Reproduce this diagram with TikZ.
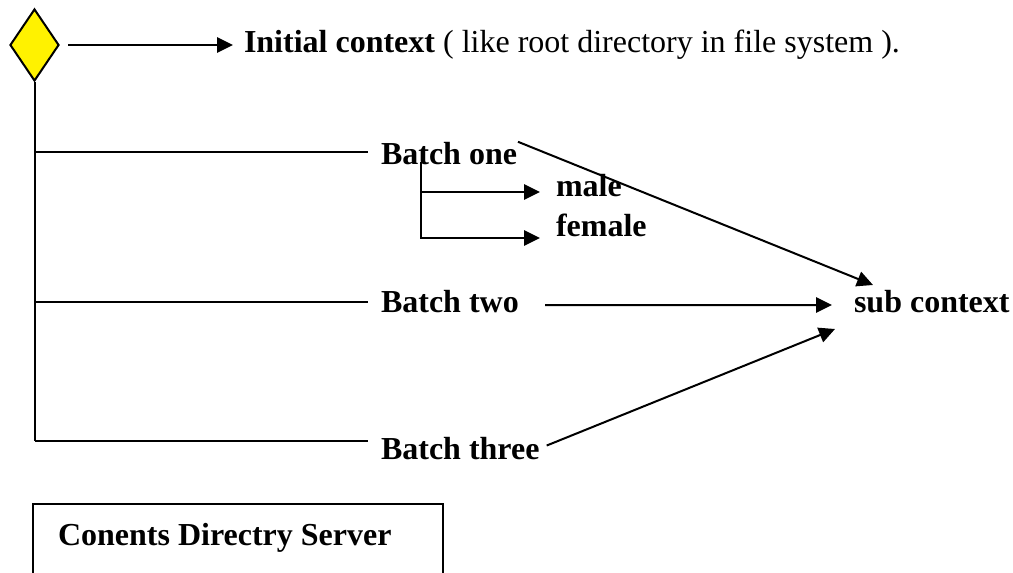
\documentclass[tikz,border=0pt]{standalone}
\usepackage{fontspec}
\setmainfont{Liberation Serif}
\usetikzlibrary{shapes.geometric,arrows.meta}

\begin{document}
\begin{tikzpicture}[x=0.75pt,y=-0.75pt,line width=1.5pt,
  lbl/.style={anchor=base west,inner sep=0pt,font=\fontsize{24}{28}\selectfont\bfseries},
  tip/.style={-{Triangle[length=12pt,width=11.5pt]}}]
  \useasboundingbox (0,0) rectangle (1013,573);

  % Root of the tree
  \node[diamond,draw,fill=yellow,inner sep=0pt,minimum width=36.75pt,minimum height=54pt] (root) at (34.5,45) {};
  \node[lbl] (init) at (243,53) {Initial context \mdseries ( like root directory in file system ).};
  \draw[tip,shorten <=6pt,shorten >=7.5pt] (root.east) -- (root.east -| init.west);

  % Batches hanging off the trunk
  \foreach \n/\y/\t/\ly in {1/165/one/152,2/313/two/302,3/459/three/441} {
    \node[lbl] (b\n) at (380,\y) {Batch \t};
    \coordinate (e\n) at (368,\ly);
    \draw (root.south |- e\n) -- (e\n);
  }
  \draw (root.south) -- (root.south |- e3);

  % Split of batch one
  \node[lbl] (male) at (555,197) {male};
  \node[lbl] (female) at (555,237) {female};
  \coordinate (fork) at (421,162);
  \draw[tip] (fork) |- (540,238);
  \draw[tip] (fork |- 0,192) -- (540,192);

  % Sub context
  \node[lbl] (sub) at (853,313) {sub context};
  \coordinate (in1) at (873,285);
  \coordinate (in2) at (832,305);
  \coordinate (in3) at (835,329);
  \draw[tip] (b1.north east) -- (in1);
  \draw[tip,shorten <=19pt] (b2.east) ++(0,3) -- (in2);
  \draw[tip,shorten <=5pt] (b3.east) -- (in3);

  % Server box
  \node[lbl] (server) at (57,545) {Conents Directry Server};
  \draw[line width=1pt] (33,590) |- (443,504) -- (443,590);
\end{tikzpicture}
\end{document}
